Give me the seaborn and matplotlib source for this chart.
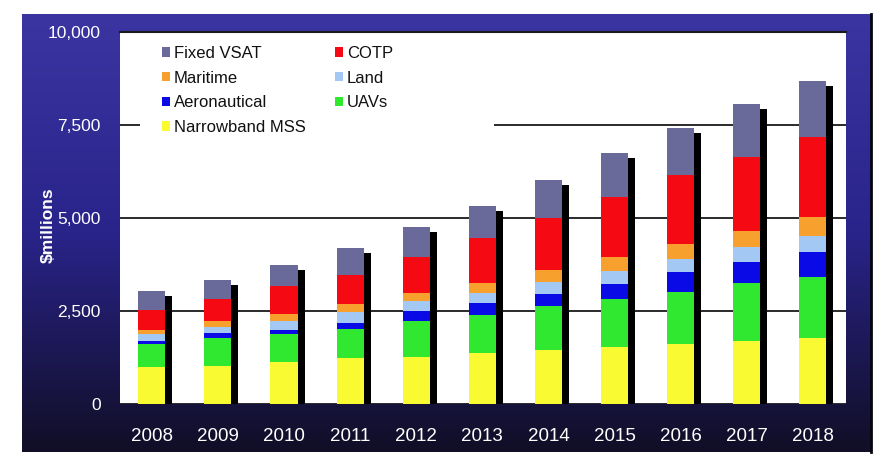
import numpy as np
import pandas as pd
import matplotlib
matplotlib.use("Agg")
import matplotlib.pyplot as plt
import matplotlib.transforms as mtransforms
from matplotlib.patches import Patch, Rectangle
import seaborn as sns

years = ["2008", "2009", "2010", "2011", "2012", "2013", "2014", "2015", "2016", "2017", "2018"]
narrowband_mss = [1000, 1030, 1120, 1230, 1255, 1360, 1450, 1540, 1610, 1700, 1775]
uavs = [610, 735, 760, 790, 985, 1040, 1175, 1275, 1405, 1540, 1650]
aeronautical = [90, 135, 115, 160, 270, 305, 330, 410, 520, 565, 655]
land = [180, 180, 225, 290, 270, 280, 315, 360, 375, 405, 430]
maritime = [115, 160, 200, 225, 215, 260, 330, 375, 385, 450, 510]
cotp = [540, 580, 745, 780, 950, 1210, 1400, 1610, 1865, 1970, 2150]
fixed_vsat = [490, 520, 575, 715, 805, 880, 1030, 1165, 1270, 1435, 1525]

series_names = ["Narrowband MSS", "UAVs", "Aeronautical", "Land", "Maritime", "COTP", "Fixed VSAT"]
series_vals = [narrowband_mss, uavs, aeronautical, land, maritime, cotp, fixed_vsat]
series_colors = ["#fafa32", "#30e830", "#0a0ae6", "#a4c8f4", "#f7a02e", "#f50a14", "#6a6a9a"]
y_ticks = [0, 2500, 5000, 7500, 10000]
y_tick_labels = ["0", "2,500", "5,000", "7,500", "10,000"]

sns.set_theme(style="white")
plt.rcParams["font.family"] = ["Liberation Sans", "DejaVu Sans"]

W, H = 894, 465
fig = plt.figure(figsize=(W / 100, H / 100), dpi=100, facecolor="white")

# dark gradient frame
fx0, fx1, fy0, fy1 = 22, 871, 14, 452
bg = fig.add_axes([fx0 / W, 1 - fy1 / H, (fx1 - fx0) / W, (fy1 - fy0) / H], zorder=0)
top_c = np.array(matplotlib.colors.to_rgb("#3b35a2"))
mid_c = np.array(matplotlib.colors.to_rgb("#29248a"))
bot_c = np.array(matplotlib.colors.to_rgb("#110e26"))
t = np.linspace(0, 1, 256)[:, None]
grad = np.where(t < 0.5, top_c + (mid_c - top_c) * (t / 0.5), mid_c + (bot_c - mid_c) * ((t - 0.5) / 0.5))
bg.imshow(grad[:, None, :].repeat(2, axis=1), aspect="auto", extent=[0, 1, 0, 1])
bg.set_xticks([]); bg.set_yticks([])
for s in ["top", "bottom", "left"]:
    bg.spines[s].set_visible(False)
bg.spines["right"].set_color("#05050f")
bg.spines["right"].set_linewidth(2)

# main axes
px0, px1, py0, py1 = 120, 846, 32, 404
ax = fig.add_axes([px0 / W, 1 - py1 / H, (px1 - px0) / W, (py1 - py0) / H], zorder=1)
ax.set_facecolor("white")

cum = np.zeros(len(years))
cums = []
for name, vals in zip(series_names, series_vals):
    cum = cum + np.array(vals)
    cums.append(cum.copy())
df = pd.DataFrame({"year": years})
for name, c in zip(series_names, cums):
    df[name] = c

# shadow bars
sns.barplot(data=df, x="year", y="Fixed VSAT", color="black", width=0.41,
            saturation=1, linewidth=0, ax=ax, zorder=2)
shadow_tr = ax.transData + mtransforms.ScaledTranslation(7 / 100, -5 / 100, fig.dpi_scale_trans)
for p in ax.patches:
    p.set_transform(shadow_tr)
    p.set_zorder(2)

# stacked bars: draw tallest cumulative first
for name, col in list(zip(series_names, series_colors))[::-1]:
    sns.barplot(data=df, x="year", y=name, color=col, width=0.41,
                saturation=1, linewidth=0, ax=ax, zorder=3)

ax.set_xlim(-0.48, 10.5)
ax.set_ylim(0, 10000)
ax.set_yticks(y_ticks)
ax.set_yticklabels(y_tick_labels)
ax.set_axisbelow(True)
ax.yaxis.grid(True, color="#2a2a2a", linewidth=1.4, zorder=0.5)
ax.xaxis.grid(False)
ax.tick_params(axis="y", length=0, pad=14, labelcolor="white", labelsize=12.5)
ax.tick_params(axis="x", length=0, pad=17, labelcolor="white", labelsize=13.5)
ax.set_xlabel("")
ax.set_ylabel("$millions", color="white", fontsize=12.5, fontweight="bold")
ax.yaxis.set_label_coords(-0.088, 0.48)
for s in ["left", "right", "bottom"]:
    ax.spines[s].set_visible(False)
ax.spines["top"].set_color("#1a1a1a")
ax.spines["top"].set_linewidth(1.5)

# white box behind legend (covers gridline)
ax.add_patch(Rectangle((0.0275, 0.74), 0.488, 0.25, transform=ax.transAxes,
                       facecolor="white", edgecolor="none", zorder=1))

leg_order = ["Fixed VSAT", "Maritime", "Aeronautical", "Narrowband MSS", "COTP", "Land", "UAVs"]
cmap = dict(zip(series_names, series_colors))
handles = [Patch(facecolor=cmap[n], edgecolor="none", label=n) for n in leg_order]
leg = ax.legend(handles=handles, ncol=2, loc="upper left",
                bbox_to_anchor=((162 - px0) / (px1 - px0), (py1 - 46) / (py1 - py0)),
                frameon=False, fontsize=12, handlelength=0.45, handleheight=0.5,
                handletextpad=0.25, columnspacing=1.8, labelspacing=0.58, borderpad=0,
                borderaxespad=0)
leg.set_zorder(5)
for txt in leg.get_texts():
    txt.set_color("#111111")

fig.savefig("out.png", dpi=100, facecolor="white")
